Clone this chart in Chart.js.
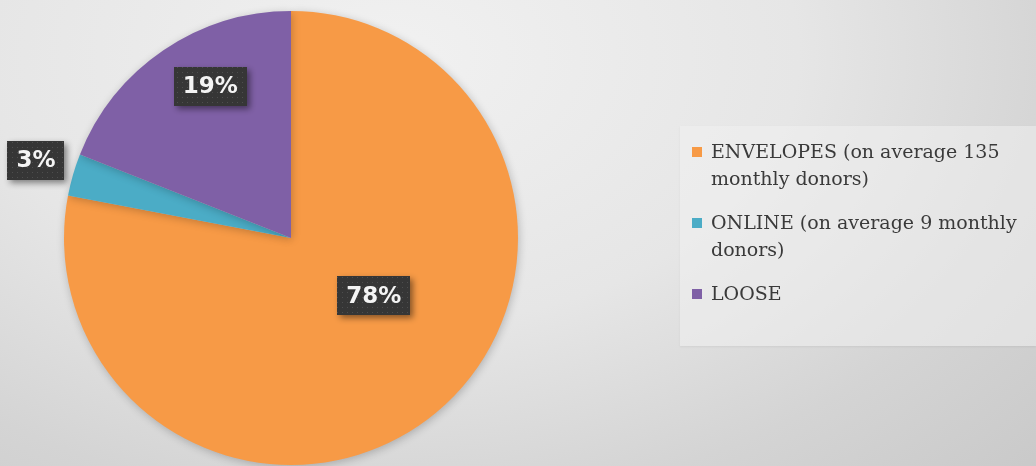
<!DOCTYPE html>
<html>
<head>
<meta charset="utf-8">
<script src="https://cdn.jsdelivr.net/npm/chart.js@4/dist/chart.umd.min.js"></script>
<style>
  html, body { margin: 0; padding: 0; }
  body {
    width: 1036px; height: 466px; overflow: hidden; position: relative;
    background: radial-gradient(ellipse 900px 600px at 38% 12%, #f1f1f1 0%, #e6e6e6 45%, #d4d4d4 75%, #c9c9c9 100%);
  }
  #wrap { position: absolute; left: 0; top: 0; width: 1036px; height: 466px; }
  #leyenda {
    position: absolute; left: 680px; top: 126px; width: 356px; height: 220px;
    background: rgba(240, 240, 240, 0.55);
    box-shadow: 0 1px 2px rgba(0,0,0,0.06);
    font-family: "DejaVu Serif", serif; font-size: 19px; color: #3a3a3a;
    box-sizing: border-box; padding: 12px 0 0 12px; white-space: nowrap;
  }
  .item { position: relative; padding-left: 19px; line-height: 27px; margin-bottom: 17px; }
  .item span.cuadro { position: absolute; left: 0; top: 9px; width: 10px; height: 10px; }
</style>
</head>
<body>
<div id="wrap"><canvas id="grafico"></canvas></div>
<div id="leyenda"></div>
<script>
const categorias = [
  ["ENVELOPES (on average 135", "monthly donors)"],
  ["ONLINE (on average 9 monthly", "donors)"],
  ["LOOSE"]
];
const valores = [78, 3, 19];
const etiquetas = ["78%", "3%", "19%"];
const colores = ["#f79a46", "#4bacc6", "#7f60a6"];

// ubicacion de cada etiqueta: angulo (grados, sistema de Chart.js) y fraccion del radio
const ubicacionEtiquetas = [
  { angulo: 35, radio: 0.445 },
  { angulo: 197, radio: 1.175 },
  { angulo: 242, radio: 0.758 }
];

function patronPuntos(ctx) {
  let c = document.createElement("canvas");
  c.width = 5; c.height = 5;
  let p = c.getContext("2d");
  p.fillStyle = "#363636";
  p.fillRect(0, 0, 5, 5);
  p.fillStyle = "#4e4e4e";
  p.fillRect(2, 2, 1, 1);
  return ctx.createPattern(c, "repeat");
}

const pluginSombra = {
  id: "sombra",
  beforeDatasetsDraw(chart) {
    let ctx = chart.ctx;
    ctx.save();
    ctx.shadowColor = "rgba(0,0,0,0.22)";
    ctx.shadowBlur = 8;
    ctx.shadowOffsetX = 1;
    ctx.shadowOffsetY = 2;
  },
  afterDatasetsDraw(chart) {
    chart.ctx.restore();
  }
};

const pluginEtiquetas = {
  id: "etiquetas",
  afterDraw(chart) {
    let ctx = chart.ctx;
    let arcos = chart.getDatasetMeta(0).data;
    ctx.save();
    ctx.font = "bold 23px 'DejaVu Sans', sans-serif";
    ctx.textAlign = "center";
    ctx.textBaseline = "middle";
    arcos.forEach(function (arco, i) {
      let u = ubicacionEtiquetas[i];
      let a = u.angulo * Math.PI / 180;
      let x = arco.x + Math.cos(a) * arco.outerRadius * u.radio;
      let y = arco.y + Math.sin(a) * arco.outerRadius * u.radio;
      let texto = etiquetas[i];
      let ancho = ctx.measureText(texto).width + 18;
      let alto = 39;
      ctx.save();
      ctx.shadowColor = "rgba(0,0,0,0.45)";
      ctx.shadowBlur = 6;
      ctx.shadowOffsetX = 3;
      ctx.shadowOffsetY = 3;
      ctx.fillStyle = patronPuntos(ctx);
      ctx.fillRect(Math.round(x - ancho / 2), Math.round(y - alto / 2), Math.round(ancho), alto);
      ctx.restore();
      ctx.fillStyle = "#f4f4f4";
      ctx.fillText(texto, x, y + 1);
    });
    ctx.restore();
  }
};

new Chart(document.getElementById("grafico"), {
  type: "pie",
  data: {
    labels: categorias,
    datasets: [{
      data: valores,
      backgroundColor: colores,
      borderWidth: 0
    }]
  },
  options: {
    responsive: true,
    maintainAspectRatio: false,
    animation: false,
    layout: { padding: { left: 0, right: 454, top: 11, bottom: 1 } },
    plugins: {
      legend: { display: false },
      tooltip: { enabled: false }
    }
  },
  plugins: [pluginSombra, pluginEtiquetas]
});

let html = "";
categorias.forEach(function (c, i) {
  html += `<div class="item"><span class="cuadro" style="background:${colores[i]}"></span>${c.join("<br>")}</div>`;
});
document.getElementById("leyenda").innerHTML = html;
</script>
</body>
</html>
